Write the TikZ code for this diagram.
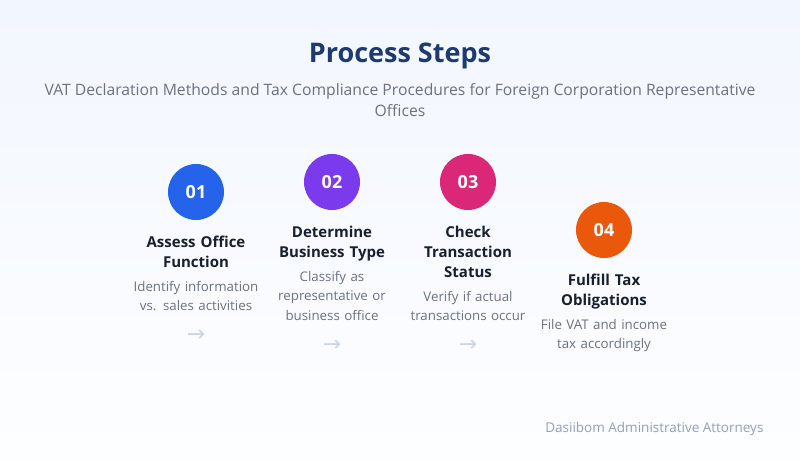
\documentclass[tikz,border=0pt]{standalone}
\usepackage{fontspec}
\setmainfont{Open Sans}
\newfontfamily\arrowfont{DejaVu Sans}
\usetikzlibrary{positioning}
\definecolor{bg_top}{RGB}{242, 246, 254}
\definecolor{bg_bottom}{RGB}{253, 254, 255}
\definecolor{title_ink}{RGB}{30, 58, 110}
\definecolor{sub_ink}{RGB}{107, 114, 128}
\definecolor{head_ink}{RGB}{24, 31, 46}
\definecolor{desc_ink}{RGB}{107, 114, 128}
\definecolor{arrow_grey}{RGB}{203, 213, 225}
\definecolor{foot_ink}{RGB}{148, 160, 184}
\definecolor{step_blue}{RGB}{37, 99, 235}
\definecolor{step_purple}{RGB}{124, 58, 237}
\definecolor{step_pink}{RGB}{219, 39, 119}
\definecolor{step_orange}{RGB}{234, 88, 12}
\tikzstyle{num}=[circle,inner sep=0pt,minimum size=56pt,text=white,
  font=\bfseries\fontsize{18}{20}\selectfont]
\tikzstyle{head}=[align=center,text width=140pt,inner sep=0pt,text=head_ink,
  font=\bfseries\fontsize{15}{20}\selectfont,
  execute at begin node=\strut,execute at end node=\strut]
\tikzstyle{desc}=[align=center,text width=140pt,inner sep=0pt,text=desc_ink,
  font=\fontsize{13.3}{19.5}\selectfont,
  execute at begin node=\strut,execute at end node=\strut]
\tikzstyle{nxt}=[inner sep=0pt,text=arrow_grey,font=\arrowfont\fontsize{22}{22}\selectfont]

\begin{document}
\begin{tikzpicture}[x=1pt,y=-1pt]
        \useasboundingbox (0,0) rectangle (800,460);
        \shade[top color=bg_top,bottom color=bg_bottom] (0,0) rectangle (800,460);
        % heading
        \node[text=title_ink,font=\bfseries\fontsize{27}{30}\selectfont] (title) at (400,56) {Process Steps};
        \node[align=center,text=sub_ink,font=\fontsize{15.7}{21}\selectfont] (sub) at (400,100)
          {VAT Declaration Methods and Tax Compliance Procedures for Foreign Corporation Representative\\Offices};
        % step 01
        \node[num,fill=step_blue] (n1) at (196,192) {01};
        \node[head,below=13pt of n1] (h1) {Assess Office\\Function};
        \node[desc,below=4pt of h1] (d1) {Identify information\\vs. sales activities};
        \node[nxt,below=13pt of d1] (a1) {→};
        % step 02
        \node[num,fill=step_purple] (n2) at (332,182) {02};
        \node[head,below=13pt of n2] (h2) {Determine\\Business Type};
        \node[desc,below=4pt of h2] (d2) {Classify as\\representative or\\business office};
        \node[nxt,below=13pt of d2] (a2) {→};
        % step 03
        \node[num,fill=step_pink] (n3) at (468,182) {03};
        \node[head,below=13pt of n3] (h3) {Check\\Transaction\\Status};
        \node[desc,below=4pt of h3] (d3) {Verify if actual\\transactions occur};
        \node[nxt,below=13pt of d3] (a3) {→};
        % step 04
        \node[num,fill=step_orange] (n4) at (604,230) {04};
        \node[head,below=13pt of n4] (h4) {Fulfill Tax\\Obligations};
        \node[desc,below=4pt of h4] (d4) {File VAT and income\\tax accordingly};
        % footer
        \node[anchor=east,text=foot_ink,font=\fontsize{13.5}{16}\selectfont] (foot) at (767,429)
          {Dasiibom Administrative Attorneys};
    \end{tikzpicture}
\end{document}
